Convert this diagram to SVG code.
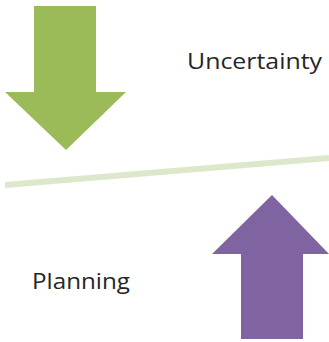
<svg xmlns="http://www.w3.org/2000/svg" width="329" height="342" viewBox="0 0 329 342">
<style>
.lbl{font-family:"Open Sans","Liberation Sans",sans-serif;font-size:21px;fill:#262626}
</style>
<rect width="329" height="342" fill="#ffffff"/>
<g id="connectors">
<line x1="5" y1="185" x2="329" y2="158" stroke="#dde8cb" stroke-width="6"/>
</g>
<g id="uncertainty-arrow">
<polygon points="34,6 96,6 96,92 126,92 66,150 5,92 34,92" fill="#9bbb59"/>
</g>
<g id="planning-arrow">
<polygon points="272,195 329,254 303,254 303,339 241,339 241,254 212,254" fill="#8064a2"/>
</g>
<g id="uncertainty-label">
<text class="lbl" x="187" y="69" textLength="135" lengthAdjust="spacingAndGlyphs">Uncertainty</text>
</g>
<g id="planning-label">
<text class="lbl" x="32" y="289" textLength="98" lengthAdjust="spacingAndGlyphs">Planning</text>
</g>
</svg>
